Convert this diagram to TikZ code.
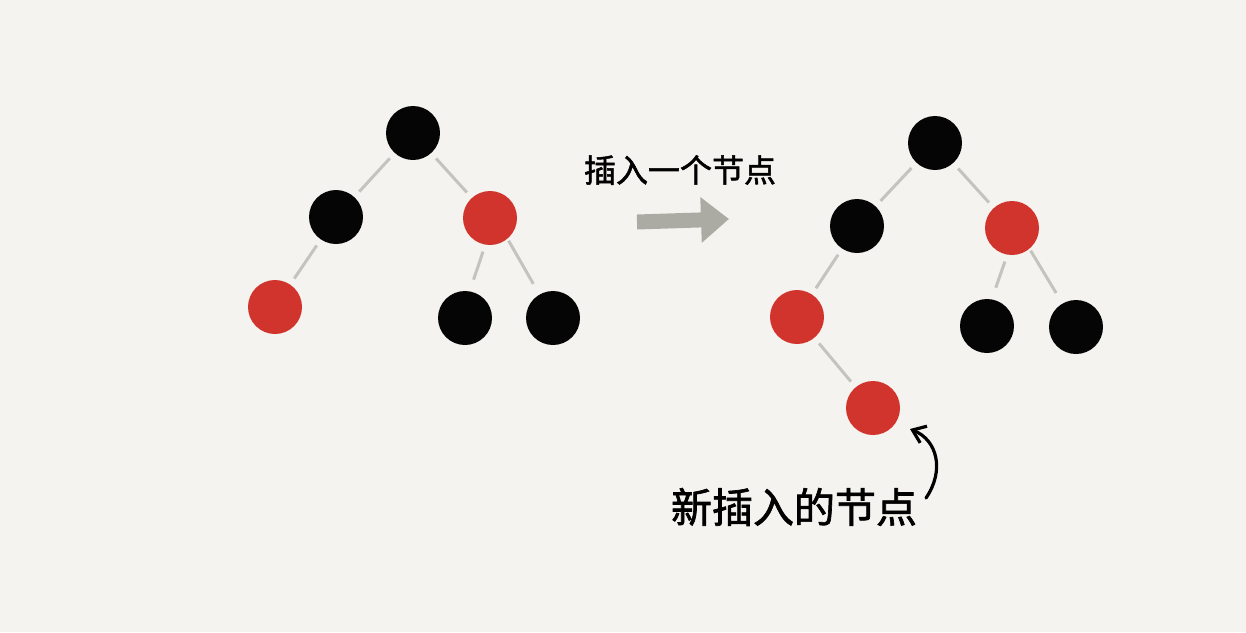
\documentclass[tikz,border=0pt]{standalone}
\usepackage{fontspec}
\newfontfamily\cjk[FakeBold=1.6]{Noto Sans CJK SC}
\usetikzlibrary{arrows.meta}
\definecolor{bg}{RGB}{244,243,239}
\definecolor{rbred}{RGB}{208,52,44}
\definecolor{rbblack}{RGB}{5,5,5}
\definecolor{edgegray}{RGB}{196,195,190}
\definecolor{arrowgray}{RGB}{172,171,163}
\tikzset{
  bnode/.style={circle,fill=rbblack,minimum size=27pt,inner sep=0pt},
  rnode/.style={circle,fill=rbred,minimum size=27pt,inner sep=0pt},
  tedge/.style={draw=edgegray,line width=1.5pt,shorten <=3.5pt,shorten >=3.5pt},
  lbl/.style={font=\cjk,text=black,inner sep=0pt}
}
\begin{document}
\begin{tikzpicture}[x=0.5pt,y=-0.5pt]
\fill[bg] (0,0) rectangle (1246,632);
\useasboundingbox (0,0) rectangle (1246,632);
% left tree
\node[bnode] (a1) at (413,133) {};
\node[bnode] (a2) at (336,217) {};
\node[rnode] (a3) at (490,218) {};
\node[rnode] (a4) at (275,307) {};
\node[bnode] (a5) at (465,318) {};
\node[bnode] (a6) at (553,318) {};
\draw[tedge] (a1) -- (a2);
\draw[tedge] (a1) -- (a3);
\draw[tedge] (a2) -- (a4);
\draw[tedge,shorten >=6pt] (a3.-100) -- (a5.80);
\draw[tedge,shorten <=1pt,shorten >=6pt] (a3.-50) -- (a6.120);
% right tree
\node[bnode] (b1) at (935,143) {};
\node[bnode] (b2) at (857,226) {};
\node[rnode] (b3) at (1012,228) {};
\node[rnode] (b4) at (797,317) {};
\node[bnode] (b5) at (987,326) {};
\node[bnode] (b6) at (1076,327) {};
\node[rnode] (b7) at (873,408) {};
\draw[tedge] (b1) -- (b2);
\draw[tedge] (b1) -- (b3);
\draw[tedge] (b2) -- (b4);
\draw[tedge,shorten >=6pt] (b3.-100) -- (b5.80);
\draw[tedge,shorten <=1pt,shorten >=6pt] (b3.-50) -- (b6.120);
\draw[tedge] (b4) -- (b7);
% middle arrow
\coordinate (m1) at (637,222);
\coordinate (m2) at (729,219);
\draw[arrowgray,line width=7.5pt,-{Triangle[length=14pt,width=22pt]}] (m1) -- (m2);
\node[lbl,font=\cjk\fontsize{16pt}{16pt}\selectfont] (t1) at (680,170) {插入一个节点};
% bottom label
\node[lbl,font=\cjk\fontsize{20.5pt}{20.5pt}\selectfont] (t2) at (794,507) {新插入的节点};
\coordinate (c1) at (926,498);
\coordinate (c2) at (910,429);
\draw[black,line width=1.6pt,line cap=round,-{Straight Barb[length=6pt,width=9pt]}] (c1) .. controls (945,470) and (937,440) .. (c2);
\end{tikzpicture}
\end{document}
